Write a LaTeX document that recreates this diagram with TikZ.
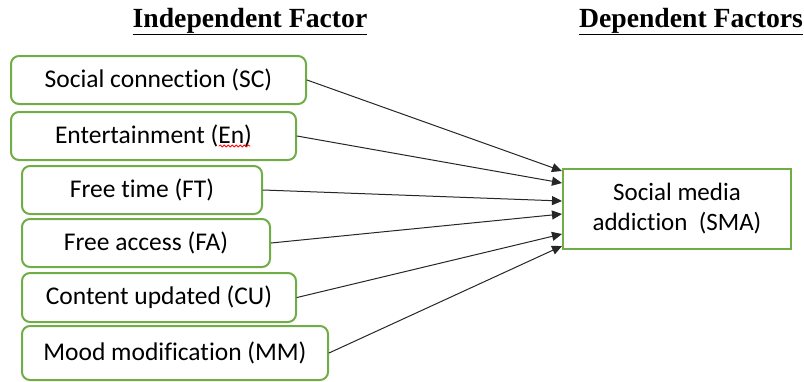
\documentclass[tikz,border=0pt]{standalone}
\usepackage{fontspec}
\setmainfont{Carlito}[Ligatures=NoCommon]
\newfontfamily\headfont{Liberation Serif}
\usepackage{xcolor}
\usetikzlibrary{arrows.meta,calc,decorations.pathmorphing,positioning}
\definecolor{facgreen}{RGB}{112,173,71}
\tikzset{
  every picture/.append style={line cap=round,line join=round},
  fac box/.style={draw=facgreen,line width=2pt,rounded corners=8pt,minimum height=48pt,inner sep=0pt,font=\fontsize{25.5}{29}\selectfont},
  fac target/.style={draw=facgreen,line width=2pt,line join=miter,minimum width=228pt,minimum height=80pt,align=center,font=\fontsize{25}{30}\selectfont},
  fac link/.style={black!85,line width=1pt,-{Triangle[length=10pt,width=9pt]}},
  fac title/.style={anchor=base,font=\headfont\bfseries\fontsize{27.7}{30}\selectfont},
  fac spell/.style={red,line width=0.8pt,decorate,decoration={snake,amplitude=1pt,segment length=4pt}}
}
\begin{document}
\begin{tikzpicture}[x=1pt, y=-1pt]
  \useasboundingbox (0,0) rectangle (804,381);
  % headings
  \node[fac title] (indep) at (250,27) {\underline{Independent Factor}};
  \node[fac title] (dep) at (691,27) {\underline{Dependent Factors}};
  % factors
  \node[fac box, minimum width=295pt] (sc) at (158.5,80) {Social connection (SC)};
  \node[fac box, minimum width=285pt] (en) at (153.5,136) {Entertainment (En)};
  \node[fac box, minimum width=240pt] (ft) at (142,190) {Free time (FT)};
  \node[fac box, minimum width=248pt] (fa) at (146,243) {Free access (FA)};
  \node[fac box, minimum width=274pt, minimum height=49pt] (cu) at (159,297.5) {Content updated (CU)};
  \node[fac box, minimum width=306pt, minimum height=54pt] (mm) at (175,353) {Mood modification (MM)};
  \node[fac target] (sma) at (677,209) {Social media\\addiction~ (SMA)};
  % links
  \foreach \src/\off in {sc/3,en/15,ft/33,fa/46,cu/66,mm/78}
    \draw[fac link] (\src.east) -- ($(sma.north west)+(0,\off)$);
  \draw[fac spell] (219,146) -- (250,146);
\end{tikzpicture}
\end{document}
